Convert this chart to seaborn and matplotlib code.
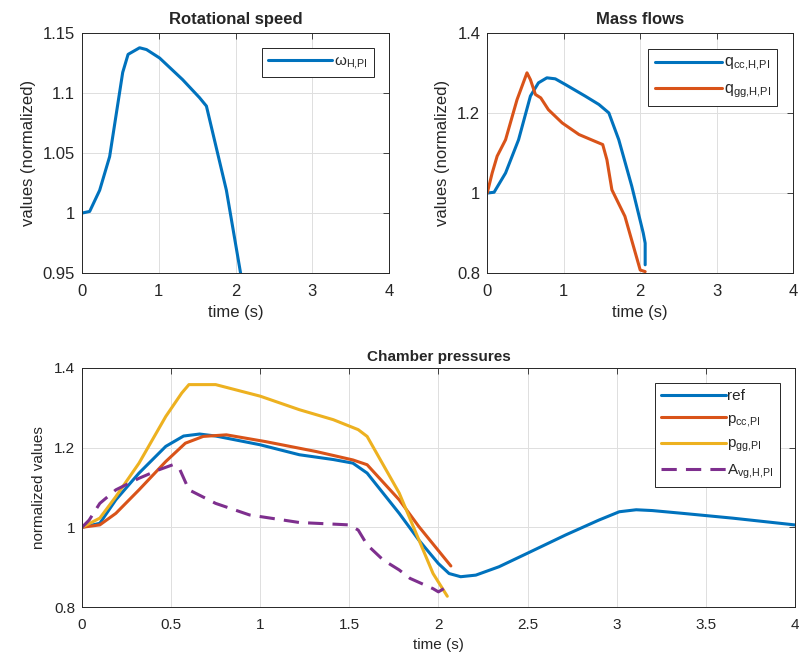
import numpy as np
import matplotlib
matplotlib.use("Agg")
import matplotlib.pyplot as plt
import seaborn as sns
from matplotlib.ticker import FormatStrFormatter

# rotational speed
t_w = [0, 0.1, 0.23, 0.36, 0.53, 0.6, 0.75, 0.84, 1.01, 1.31, 1.53, 1.62, 1.88, 2.065]
w_hpi = [1.0, 1.0014, 1.019, 1.047, 1.117, 1.132, 1.1375, 1.136, 1.129, 1.111, 1.096, 1.089, 1.019, 0.95]

# mass flows
t_qcc = [0, 0.09, 0.24, 0.41, 0.565, 0.67, 0.78, 0.89, 1.02, 1.28, 1.46, 1.59, 1.72, 1.89, 2.04, 2.065, 2.065]
q_cc = [1.0, 1.002, 1.05, 1.133, 1.242, 1.275, 1.2875, 1.285, 1.271, 1.242, 1.221, 1.2, 1.133, 1.017, 0.9, 0.875, 0.821]
t_qgg = [0, 0.065, 0.13, 0.24, 0.39, 0.52, 0.565, 0.63, 0.7, 0.8, 0.98, 1.2, 1.41, 1.51, 1.565, 1.63, 1.8, 2.0, 2.065]
q_gg = [1.0, 1.05, 1.092, 1.133, 1.233, 1.3, 1.283, 1.246, 1.2375, 1.208, 1.175, 1.146, 1.129, 1.121, 1.083, 1.008, 0.942, 0.808, 0.804]

# chamber pressures
t_ref = [0, 0.1, 0.19, 0.32, 0.47, 0.57, 0.66, 0.75, 1.0, 1.22, 1.41, 1.52, 1.6, 1.78, 1.89, 2.0, 2.06,
         2.125, 2.21, 2.34, 2.5, 2.715, 2.9, 3.015, 3.11, 3.2, 3.37, 3.65, 4.0]
p_ref = [1.0, 1.01, 1.069, 1.136, 1.203, 1.229, 1.234, 1.229, 1.207, 1.182, 1.17, 1.161, 1.136, 1.035, 0.968,
         0.909, 0.884, 0.876, 0.88, 0.901, 0.935, 0.981, 1.018, 1.039, 1.044, 1.042, 1.035, 1.023, 1.006]
t_pcc = [0, 0.1, 0.19, 0.32, 0.47, 0.58, 0.68, 0.81, 1.03, 1.315, 1.52, 1.6, 1.78, 1.89, 2.07]
p_cc = [1.0, 1.006, 1.035, 1.094, 1.165, 1.211, 1.228, 1.232, 1.215, 1.19, 1.169, 1.157, 1.069, 1.002, 0.903]
t_pgg = [0, 0.1, 0.19, 0.32, 0.47, 0.56, 0.6, 0.75, 1.0, 1.22, 1.41, 1.55, 1.6, 1.78, 1.97, 2.05]
p_gg = [1.0, 1.023, 1.077, 1.161, 1.278, 1.337, 1.358, 1.358, 1.329, 1.295, 1.27, 1.245, 1.228, 1.086, 0.884, 0.827]
t_avg = [0, 0.04, 0.1, 0.19, 0.32, 0.43, 0.51, 0.55, 0.6, 0.75, 0.94, 1.22, 1.41, 1.5, 1.55, 1.6, 1.69,
         1.78, 1.84, 1.97, 2.0, 2.03]
a_vg = [1.0, 1.018, 1.06, 1.094, 1.123, 1.144, 1.157, 1.144, 1.094, 1.06, 1.031, 1.012, 1.008, 1.006, 0.993,
        0.956, 0.918, 0.893, 0.872, 0.846, 0.838, 0.846]

blue, orange, yellow, purple = "#0072BD", "#D95319", "#EDB120", "#7E2F8E"

sns.set_style("whitegrid")
plt.rcParams['font.family'] = ['Liberation Sans', 'DejaVu Sans']
plt.rcParams['mathtext.fontset'] = 'custom'
plt.rcParams['mathtext.rm'] = 'Liberation Sans'
plt.rcParams['mathtext.default'] = 'regular'

fig = plt.figure(figsize=(8, 6.68), dpi=100)
ax1 = fig.add_axes([0.1025, 0.591, 0.384, 0.36])
ax2 = fig.add_axes([0.609, 0.591, 0.3825, 0.36])
ax3 = fig.add_axes([0.1025, 0.0913, 0.891, 0.358])


def line(ax, x, y, color, label, dashed=False):
    sns.lineplot(x=x, y=y, ax=ax, color=color, lw=2.2, label=label, estimator=None, sort=False,
                 linestyle="--" if dashed else "-", dashes=False)
    if dashed:
        ax.lines[-1].set_dashes((5, 3))


line(ax1, t_w, w_hpi, blue, r'$\omega_{H{,}PI}$')
line(ax2, t_qcc, q_cc, blue, 'q$_{cc{,}H{,}PI}$')
line(ax2, t_qgg, q_gg, orange, 'q$_{gg{,}H{,}PI}$')
line(ax3, t_ref, p_ref, blue, 'ref')
line(ax3, t_pcc, p_cc, orange, 'p$_{cc{,}PI}$')
line(ax3, t_pgg, p_gg, yellow, 'p$_{gg{,}PI}$')
line(ax3, t_avg, a_vg, purple, 'A$_{vg{,}H{,}PI}$', dashed=True)

ax1.set(xlim=(0, 4), ylim=(0.95, 1.15), xticks=[0, 1, 2, 3, 4], yticks=[0.95, 1, 1.05, 1.1, 1.15])
ax2.set(xlim=(0, 4), ylim=(0.8, 1.4), xticks=[0, 1, 2, 3, 4], yticks=[0.8, 1, 1.2, 1.4])
ax3.set(xlim=(0, 4), ylim=(0.8, 1.4), xticks=np.arange(0, 4.01, 0.5), yticks=[0.8, 1, 1.2, 1.4])

ax1.set_title('Rotational speed', fontsize=12, fontweight='bold', pad=6)
ax2.set_title('Mass flows', fontsize=12, fontweight='bold', pad=6)
ax3.set_title('Chamber pressures', fontsize=11, fontweight='bold', pad=5)
ax1.set_ylabel('values (normalized)', fontsize=12, color='#262626', labelpad=5)
ax2.set_ylabel('values (normalized)', fontsize=12, color='#262626', labelpad=5)
ax3.set_ylabel('normalized values', fontsize=11, color='#262626', labelpad=6)
for ax in (ax1, ax2):
    ax.set_xlabel('time (s)', fontsize=12, color='#262626', labelpad=4)
ax3.set_xlabel('time (s)', fontsize=11, color='#262626', labelpad=4)

for ax, fs, lfs, lsp in ((ax1, 12, 11, 0.35), (ax2, 12, 11.5, 0.5), (ax3, 11, 11, 0.55)):
    ax.yaxis.set_major_formatter(FormatStrFormatter('%g'))
    ax.xaxis.set_major_formatter(FormatStrFormatter('%g'))
    ax.tick_params(direction='in', length=4, width=0.6, colors='#262626', labelsize=fs,
                   top=True, right=True, labeltop=False, labelright=False)
    ax.tick_params(axis='x', pad=8)
    ax.tick_params(axis='y', pad=5)
    ax.grid(True, color='#DFDFDF', lw=0.7)
    for s in ax.spines.values():
        s.set_visible(True)
        s.set_color('#262626')
        s.set_linewidth(0.7)
    leg = ax.legend(loc='upper right', fontsize=lfs, handlelength=4.2, frameon=True, fancybox=False,
                    framealpha=1, edgecolor='#262626', borderaxespad=1.0, handletextpad=0.1,
                    labelspacing=lsp, borderpad=0.4)
    leg.get_frame().set_linewidth(0.7)

fig.savefig('out.png', dpi=100)
